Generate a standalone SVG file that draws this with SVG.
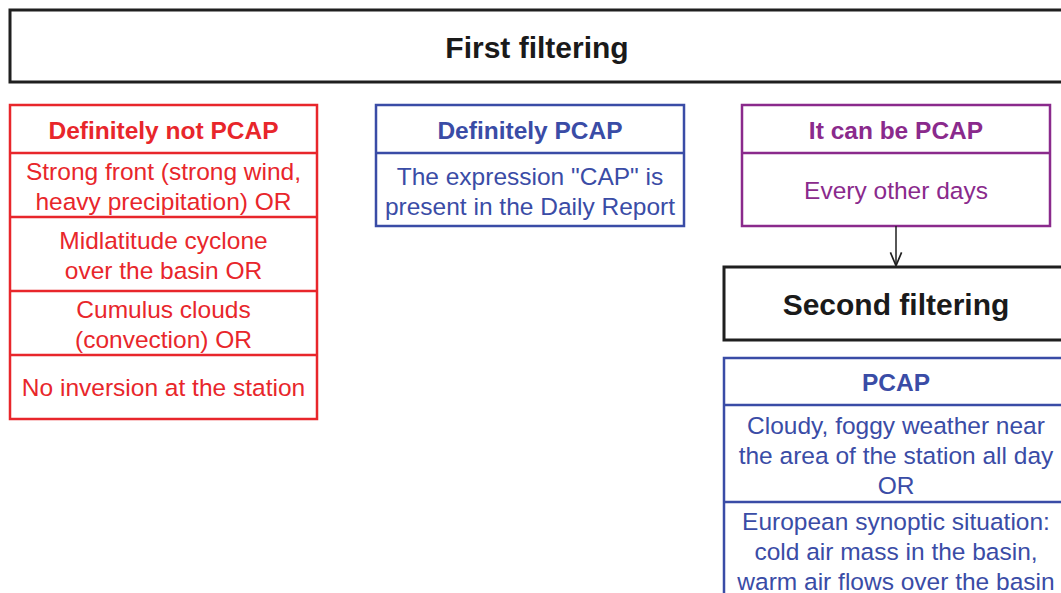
<svg xmlns="http://www.w3.org/2000/svg" width="1061" height="593" viewBox="0 0 1061 593">
<style>
text{font-family:"Liberation Sans",Arial,sans-serif;text-anchor:middle}
.big{font-size:30px;font-weight:bold;fill:#1a1a1a}
.hd{font-size:24.5px;font-weight:bold}
.tx{font-size:24.5px}
.red{fill:#e8262b}.blue{fill:#3a4ca6}.pur{fill:#8a2a8c}
.rs{fill:none;stroke:#e8262b;stroke-width:2.5}
.bs{fill:none;stroke:#3a4ca6;stroke-width:2.5}
.ps{fill:none;stroke:#8a2a8c;stroke-width:2.5}
.ks{fill:#fff;stroke:#1f1f1f;stroke-width:3}
</style>
<defs><marker id="ah" viewBox="0 0 10 10" refX="9" refY="5" markerWidth="14" markerHeight="14" orient="auto" markerUnits="userSpaceOnUse"><path d="M0,1 L9.5,5 L0,9" fill="none" stroke="#1f1f1f" stroke-width="1.2"/></marker></defs>
<rect width="1061" height="593" fill="#fff"/>
<g id="first">
<rect class="ks" x="10" y="10" width="1060" height="72"/>
<text class="big" x="537" y="58">First filtering</text>
</g>
<g id="notpcap">
<rect class="rs" x="10" y="105" width="307" height="314"/>
<path class="rs" d="M10 153H317M10 217H317M10 291H317M10 355H317"/>
<text class="hd red" x="163.5" y="139">Definitely not PCAP</text>
<text class="tx red" x="163.5" y="180">Strong front (strong wind,</text>
<text class="tx red" x="163.5" y="210">heavy precipitation) OR</text>
<text class="tx red" x="163.5" y="249">Midlatitude cyclone</text>
<text class="tx red" x="163.5" y="279">over the basin OR</text>
<text class="tx red" x="163.5" y="318">Cumulus clouds</text>
<text class="tx red" x="163.5" y="348">(convection) OR</text>
<text class="tx red" x="163.5" y="396">No inversion at the station</text>
</g>
<g id="defpcap">
<rect class="bs" x="376" y="105" width="308" height="121"/>
<path class="bs" d="M376 153H684"/>
<text class="hd blue" x="530" y="139">Definitely PCAP</text>
<text class="tx blue" x="530" y="185">The expression "CAP" is</text>
<text class="tx blue" x="530" y="215">present in the Daily Report</text>
</g>
<g id="canbe">
<rect class="ps" x="742" y="105" width="308" height="121"/>
<path class="ps" d="M742 153H1050"/>
<text class="hd pur" x="896" y="139">It can be PCAP</text>
<text class="tx pur" x="896" y="199">Every other days</text>
</g>
<g id="connectors">
<path d="M896 226V265" stroke="#1f1f1f" stroke-width="1.5" fill="none" marker-end="url(#ah)"/>
</g>
<g id="second">
<rect class="ks" x="724" y="267" width="350" height="73"/>
<text class="big" x="896" y="315">Second filtering</text>
</g>
<g id="pcap">
<rect class="bs" x="724" y="358" width="350" height="250"/>
<path class="bs" d="M724 405H1061M724 502H1061"/>
<text class="hd blue" x="896" y="391">PCAP</text>
<text class="tx blue" x="896" y="434">Cloudy, foggy weather near</text>
<text class="tx blue" x="896" y="464">the area of the station all day</text>
<text class="tx blue" x="896" y="494">OR</text>
<text class="tx blue" x="896" y="530">European synoptic situation:</text>
<text class="tx blue" x="896" y="560">cold air mass in the basin,</text>
<text class="tx blue" x="896" y="590">warm air flows over the basin</text>
</g>
</svg>
